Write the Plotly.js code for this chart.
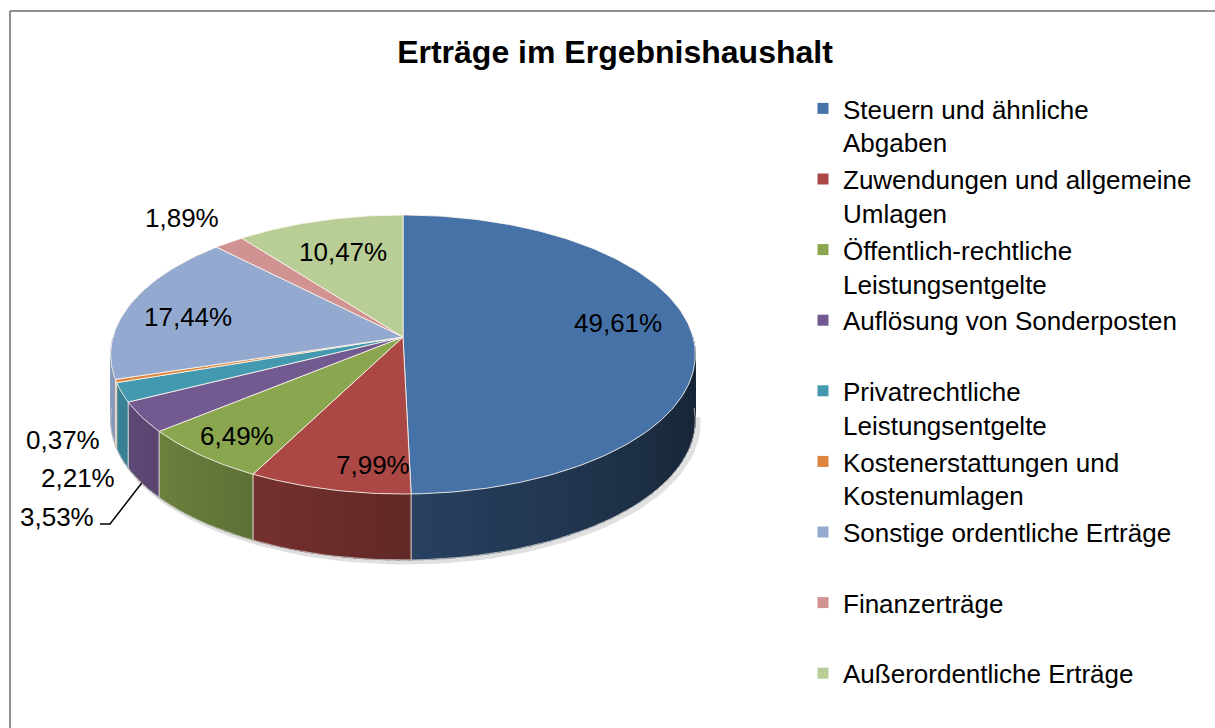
<!DOCTYPE html>
<html><head><meta charset="utf-8">
<script src="https://cdn.plot.ly/plotly-3.0.1.min.js"></script>
<style>html,body{margin:0;padding:0;background:#fff}#chart{width:1215px;height:728px}</style>
</head><body><div id="chart"></div>
<script>
// ---- data ----
const categories = ["Steuern und ähnliche Abgaben","Zuwendungen und allgemeine Umlagen","Öffentlich-rechtliche Leistungsentgelte","Auflösung von Sonderposten","Privatrechtliche Leistungsentgelte","Kostenerstattungen und Kostenumlagen","Sonstige ordentliche Erträge","Finanzerträge","Außerordentliche Erträge"];
const legendLabels = ["Steuern und ähnliche<br>Abgaben","Zuwendungen und allgemeine<br>Umlagen","Öffentlich-rechtliche<br>Leistungsentgelte","Auflösung von Sonderposten<br>\u00a0","Privatrechtliche<br>Leistungsentgelte","Kostenerstattungen und<br>Kostenumlagen","Sonstige ordentliche Erträge<br>\u00a0","Finanzerträge<br>\u00a0","Außerordentliche Erträge"];
const values = [49.61, 7.99, 6.49, 3.53, 2.21, 0.37, 17.44, 1.89, 10.47];
const colors = ["#4672A8","#AB4744","#8AA64F","#72598F","#4299B0","#DC853E","#93A9CF","#D19392","#B9CD96"];

// ---- layout constants (pixel space) ----
const W = 1215, H = 728;
const CX = 403, CY = 337, RX = 290, RY = 137.3, K = 0.1255, DEPTH = 66;
const labelPos = [[618,323],[373,465],[237,436],[57,517],[78,478],[63,440],[188,317],[182,218],[343,252]];
const FONT = "Liberation Sans, Arial, sans-serif";

const total = values.reduce((a,b)=>a+b,0);
function P(thDeg, r, drop){
  const th = thDeg*Math.PI/180, c = Math.cos(th), s = Math.sin(th);
  const den = 1 + K*r*c;
  return [CX + RX*r*s/den, CY - RY*r*c/den + drop];
}
function shade(hex, f){
  const n = parseInt(hex.slice(1),16);
  const r = Math.round(((n>>16)&255)*f), g = Math.round(((n>>8)&255)*f), b = Math.round((n&255)*f);
  return `rgb(${r},${g},${b})`;
}
function fac(th){ const t = Math.max(0,(th-90)/180); return 0.3 + 0.64*Math.pow(t,1.2); }

const bounds = [];
let cum = 0;
values.forEach(v => { const a0 = cum/total*360; cum += v; bounds.push([a0, cum/total*360]); });

const traces = [];
// soft shadow under the rim
(function(){
  const xs=[], ys=[];
  for(let t=95;t<=265;t+=2){ const p=P(t,1,DEPTH); xs.push(p[0]+3); ys.push(p[1]+2); }
  traces.push({type:'scatter',x:xs,y:ys,mode:'lines',line:{color:'rgba(0,0,0,0.12)',width:5},hoverinfo:'skip',showlegend:false});
})();

// side walls (front half), split in strips for shading
bounds.forEach(([a0,a1],i)=>{
  const s = Math.max(a0,90), e = Math.min(a1,270);
  if(e <= s) return;
  const n = Math.max(1, Math.ceil((e-s)/2));
  for(let j=0;j<n;j++){
    const t0 = s+(e-s)*j/n, t1 = Math.min(s+(e-s)*(j+1)/n+0.4, 270);
    const xs=[], ys=[], m=4;
    for(let q=0;q<=m;q++){ const p=P(t0+(t1-t0)*q/m,1,0); xs.push(p[0]); ys.push(p[1]); }
    for(let q=m;q>=0;q--){ const p=P(t0+(t1-t0)*q/m,1,DEPTH); xs.push(p[0]); ys.push(p[1]); }
    xs.push(xs[0]); ys.push(ys[0]);
    const col = shade(colors[i], fac((t0+t1)/2));
    traces.push({type:'scatter',x:xs,y:ys,mode:'lines',fill:'toself',fillcolor:col,line:{width:0.5,color:col},hoverinfo:'skip',showlegend:false});
  }
});
// side boundary lines
bounds.forEach(([a0,a1])=>{
  if(a1>90 && a1<270){
    const p=P(a1,1,0), q=P(a1,1,DEPTH);
    traces.push({type:'scatter',x:[p[0],q[0]],y:[p[1],q[1]],mode:'lines',line:{color:'rgba(245,240,230,0.9)',width:1},hoverinfo:'skip',showlegend:false});
  }
});
// bottom rim edge
(function(){
  const xs=[], ys=[];
  for(let t=92;t<=268;t+=2){ const p=P(t,1,DEPTH); xs.push(p[0]); ys.push(p[1]); }
  traces.push({type:'scatter',x:xs,y:ys,mode:'lines',line:{color:'rgba(200,200,200,0.8)',width:1},hoverinfo:'skip',showlegend:false});
})();
// top faces
bounds.forEach(([a0,a1],i)=>{
  const xs=[CX], ys=[CY];
  const n = Math.max(2, Math.ceil((a1-a0)/1));
  for(let q=0;q<=n;q++){ const p=P(a0+(a1-a0)*q/n,1,0); xs.push(p[0]); ys.push(p[1]); }
  xs.push(CX); ys.push(CY);
  traces.push({type:'scatter',x:xs,y:ys,mode:'lines',fill:'toself',fillcolor:colors[i],
    line:{color:'rgba(250,245,235,0.85)',width:1},name:categories[i],hoverinfo:'skip',showlegend:false});
});
// leader line for the small purple slice label
(function(){
  const b = bounds[3], mid = (b[0]+b[1])/2, p = P(mid,1,DEPTH);
  const lp = labelPos[3];
  traces.push({type:'scatter',x:[lp[0]+43,lp[0]+53,p[0]],y:[lp[1]+7,lp[1]+7,p[1]],mode:'lines',
    line:{color:'#000',width:1.5},hoverinfo:'skip',showlegend:false});
})();
// legend entries
categories.forEach((c,i)=>{
  traces.push({type:'scatter',x:[null],y:[null],mode:'markers',name:legendLabels[i],legendgroup:'g'+i,
    marker:{symbol:'square',size:11,color:colors[i]},showlegend:true,hoverinfo:'skip'});
});

const annotations = values.map((v,i)=>({
  x: labelPos[i][0], y: labelPos[i][1], xref:'x', yref:'y', showarrow:false,
  text: v.toFixed(2).replace('.',',')+'%', font:{family:FONT,size:26,color:'#000'},
  xanchor:'center', yanchor:'middle'
}));

const layout = {
  width: W, height: H, margin:{l:0,r:0,t:0,b:0,autoexpand:false},
  paper_bgcolor:'#fff', plot_bgcolor:'#fff',
  xaxis:{range:[0,W],visible:false,fixedrange:true},
  yaxis:{range:[H,0],visible:false,fixedrange:true},
  title:{text:'<b>Erträge im Ergebnishaushalt</b>',font:{family:FONT,size:32,color:'#000'},
    x:615/W, xanchor:'center', xref:'container', y:1-52/H, yanchor:'middle', yref:'container'},
  showlegend:true,
  legend:{x:803/W, y:1-85/H, xanchor:'left', yanchor:'top', valign:'top',
    font:{family:FONT,size:26,color:'#000'}, bgcolor:'rgba(0,0,0,0)', tracegroupgap:0, traceorder:'normal',
    itemclick:false, itemdoubleclick:false},
  annotations: annotations,
  shapes:[
    {type:'line',xref:'x',yref:'y',x0:10,x1:W+5,y0:11,y1:11,line:{color:'#8f8f8f',width:2}},
    {type:'line',xref:'x',yref:'y',x0:10,x1:10,y0:11,y1:H+5,line:{color:'#8f8f8f',width:2}}
  ],
  hovermode:false
};
Plotly.newPlot('chart', traces, layout, {displayModeBar:false, staticPlot:true});
</script></body></html>
